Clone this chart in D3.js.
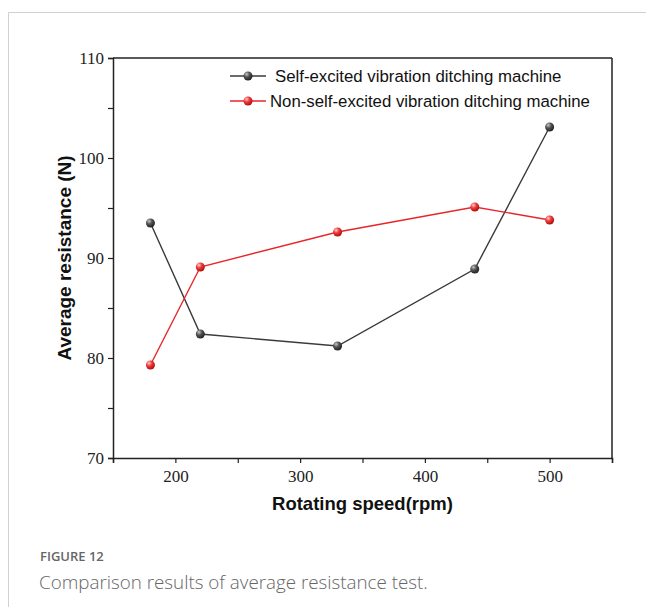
<!DOCTYPE html>
<html>
<head>
<meta charset="utf-8">
<script src="https://cdn.jsdelivr.net/npm/d3@7"></script>
<style>
  body { margin: 0; background: #fff; }
  svg { display: block; }
</style>
</head>
<body>
<div id="chart"></div>
<script>
// data
var speeds = [180, 220, 330, 440, 500];
var selfExcited = [93.5, 82.4, 81.2, 88.9, 103.1];
var nonSelfExcited = [79.3, 89.1, 92.6, 95.1, 93.8];
var seriesNames = ["Self-excited vibration ditching machine", "Non-self-excited vibration ditching machine"];
var xTicks = [200, 300, 400, 500];
var yTicks = [70, 80, 90, 100, 110];

var width = 646, height = 607;
var margin = {top: 58, right: 34, bottom: 149, left: 113};

var svg = d3.select("#chart").append("svg")
    .attr("width", width)
    .attr("height", height);

// card frame
svg.append("path")
    .attr("d", "M8.5," + height + "V12.5H" + width)
    .attr("fill", "none")
    .attr("stroke", "#d0d0d0")
    .attr("stroke-width", 1);

var defs = svg.append("defs");
function ballGradient(id, light, mid, dark) {
    var g = defs.append("radialGradient").attr("id", id)
        .attr("cx", "35%").attr("cy", "30%").attr("r", "70%");
    g.append("stop").attr("offset", "0%").attr("stop-color", light);
    g.append("stop").attr("offset", "45%").attr("stop-color", mid);
    g.append("stop").attr("offset", "100%").attr("stop-color", dark);
}
ballGradient("ballBlack", "#c8c8c8", "#555", "#222");
ballGradient("ballRed", "#ffd0d0", "#f03a3a", "#b01010");

var x = d3.scaleLinear().domain([150, 550]).range([margin.left, width - margin.right]);
var y = d3.scaleLinear().domain([70, 110]).range([height - margin.bottom, margin.top]);

var g = svg.append("g");

// frame top and right
g.append("line")
    .attr("x1", x(150)).attr("x2", x(550))
    .attr("y1", y(110)).attr("y2", y(110))
    .attr("stroke", "#222").attr("stroke-width", 1.5);
g.append("line")
    .attr("x1", x(550)).attr("x2", x(550))
    .attr("y1", y(110)).attr("y2", y(70))
    .attr("stroke", "#222").attr("stroke-width", 1.5);

// x axis
var xAxis = g.append("g")
    .attr("transform", "translate(0," + y(70) + ")")
    .call(d3.axisBottom(x).tickValues(d3.range(150, 551, 50)).tickSize(5)
        .tickFormat(function(d){ return xTicks.indexOf(d) >= 0 ? d : ""; }));
xAxis.select(".domain").attr("stroke", "#222").attr("stroke-width", 1.5);
xAxis.selectAll(".tick line").attr("stroke", "#222").attr("stroke-width", 1.2);
xAxis.selectAll(".tick text")
    .attr("font-family", "Liberation Serif, serif")
    .attr("font-size", 17).attr("fill", "#222").attr("dy", "0.95em");

// y axis
var yAxis = g.append("g")
    .attr("transform", "translate(" + x(150) + ",0)")
    .call(d3.axisLeft(y).tickValues(d3.range(70, 111, 5)).tickSize(5)
        .tickFormat(function(d){ return yTicks.indexOf(d) >= 0 ? d : ""; }));
yAxis.select(".domain").attr("stroke", "#222").attr("stroke-width", 1.5);
yAxis.selectAll(".tick line").attr("stroke", "#222").attr("stroke-width", 1.2);
yAxis.selectAll(".tick text")
    .attr("font-family", "Liberation Serif, serif")
    .attr("font-size", 17).attr("fill", "#222").attr("x", -9);

// axis titles
svg.append("text")
    .attr("x", (x(150) + x(550)) / 2).attr("y", 510)
    .attr("text-anchor", "middle")
    .attr("font-family", "Liberation Sans, Arial, sans-serif")
    .attr("font-weight", "bold").attr("font-size", 18.5).attr("fill", "#111")
    .text("Rotating speed(rpm)");
svg.append("text")
    .attr("transform", "translate(71," + (y(90)) + ") rotate(-90)")
    .attr("text-anchor", "middle")
    .attr("font-family", "Liberation Sans, Arial, sans-serif")
    .attr("font-weight", "bold").attr("font-size", 19).attr("fill", "#111")
    .text("Average resistance (N)");

var series = [
    {name: seriesNames[0], values: selfExcited, color: "#3a3a3a", grad: "url(#ballBlack)"},
    {name: seriesNames[1], values: nonSelfExcited, color: "#e8262a", grad: "url(#ballRed)"}
];

var line = d3.line()
    .x(function(d){ return x(d[0]); })
    .y(function(d){ return y(d[1]); });

series.forEach(function(s){
    var pts = speeds.map(function(v, i){ return [v, s.values[i]]; });
    g.append("path")
        .datum(pts)
        .attr("d", line)
        .attr("fill", "none")
        .attr("stroke", s.color)
        .attr("stroke-width", 1.4);
    g.selectAll(null)
        .data(pts)
        .enter()
        .append("circle")
        .attr("cx", function(d){ return x(d[0]); })
        .attr("cy", function(d){ return y(d[1]); })
        .attr("r", 4.5)
        .attr("fill", s.grad);
});

// legend
var legend = svg.append("g").attr("transform", "translate(230,76)");
series.forEach(function(s, i){
    var row = legend.append("g").attr("transform", "translate(0," + (i * 25) + ")");
    row.append("line")
        .attr("x1", 0).attr("x2", 36)
        .attr("stroke", s.color).attr("stroke-width", 1.4);
    row.append("circle")
        .attr("cx", 18).attr("r", 4.5).attr("fill", s.grad);
    row.append("text")
        .attr("x", i === 0 ? 45 : 40).attr("dy", "0.35em")
        .attr("font-family", "Liberation Sans, Arial, sans-serif")
        .attr("font-size", 16.8).attr("fill", "#111")
        .text(s.name);
});

// caption
svg.append("text")
    .attr("x", 40).attr("y", 561)
    .attr("font-family", "Open Sans, sans-serif")
    .attr("font-weight", 600)
    .attr("font-size", 13).attr("fill", "#666")
    .text("FIGURE 12");
svg.append("text")
    .attr("x", 39).attr("y", 589)
    .attr("font-family", "Open Sans, sans-serif")
    .attr("font-weight", 300)
    .attr("font-size", 18.8).attr("fill", "#666")
    .text("Comparison results of average resistance test.");
</script>
</body>
</html>
